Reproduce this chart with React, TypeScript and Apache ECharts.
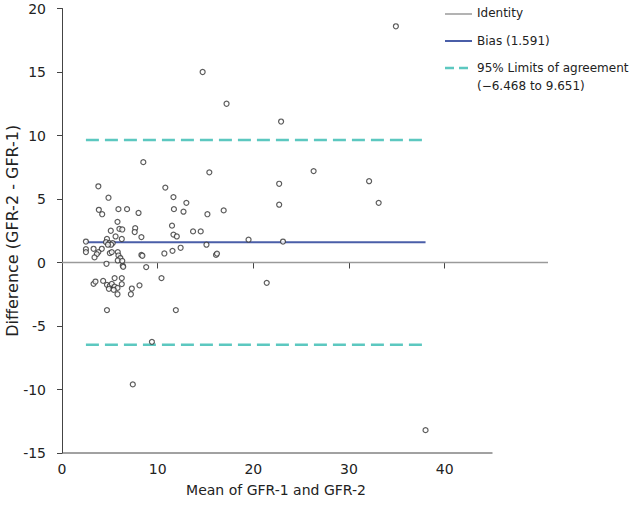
import React, { useEffect, useRef } from "react";
import * as echarts from "echarts";

// Bland-Altman points: [mean of GFR-1 and GFR-2, difference GFR-2 - GFR-1]
const points: [number, number][] = [
  [34.9, 18.6], [14.7, 15.0], [17.2, 12.5], [22.9, 11.1], [8.5, 7.9], [15.4, 7.1],
  [26.3, 7.2], [32.1, 6.4], [22.7, 6.2], [10.8, 5.9], [11.65, 5.15], [13.0, 4.7],
  [33.1, 4.7], [11.7, 4.2], [12.7, 4.0], [22.7, 4.55], [16.9, 4.1], [15.2, 3.8],
  [11.5, 2.9], [11.65, 2.2], [12.0, 2.05], [13.7, 2.45], [14.5, 2.45], [19.5, 1.8],
  [23.1, 1.65], [15.1, 1.4], [12.4, 1.16], [11.55, 0.92], [10.7, 0.71], [16.1, 0.6],
  [16.2, 0.7], [8.3, 2.0], [8.3, 0.6], [8.4, 0.53], [8.8, -0.36], [10.4, -1.23],
  [8.1, -1.8], [21.4, -1.6], [11.9, -3.75], [4.7, -3.75], [9.4, -6.25], [7.4, -9.6],
  [38.0, -13.2],
  [3.8, 6.0], [4.86, 5.1], [3.85, 4.15], [4.2, 3.8], [5.9, 4.2], [6.8, 4.2],
  [8.0, 3.9], [5.8, 3.2], [5.1, 2.5], [6.0, 2.65], [6.3, 2.6], [7.65, 2.7],
  [7.6, 2.4], [5.6, 2.05], [6.25, 1.85], [4.7, 1.85], [4.6, 1.6], [4.96, 1.53],
  [5.3, 1.53], [5.14, 1.4], [4.8, 1.4], [2.5, 1.65], [2.5, 1.05], [2.5, 0.82],
  [3.3, 1.08], [4.16, 1.08], [3.8, 0.82], [3.64, 0.66], [3.4, 0.4], [5.0, 0.74],
  [5.2, 0.82], [5.83, 0.82], [5.9, 0.55], [6.1, 0.35], [5.83, 0.16], [6.3, 0.13],
  [6.35, -0.26], [6.4, -0.34], [4.65, -0.1], [3.3, -1.68], [3.5, -1.5], [4.3, -1.45],
  [5.5, -1.23], [6.25, -1.23], [4.7, -1.76], [5.0, -1.84], [5.2, -1.68], [5.5, -1.9],
  [5.8, -2.0], [4.9, -2.07], [5.4, -2.15], [5.8, -2.5], [6.25, -1.7], [7.3, -2.05],
  [7.2, -2.5],
];

const biasValue = 1.591;
const loaLower = -6.468;
const loaUpper = 9.651;
const lineStart = 2.5;
const lineEnd = 38.0;

const xTicks = [0, 10, 20, 30, 40];
const xAxisEnd = 45;
const xMax = 50.8;
const yMin = -15;
const yMax = 20;

const FONT = "DejaVu Sans";
const IDENTITY_NAME = "Identity";
const BIAS_NAME = "Bias (1.591)";
const LOA_NAME = "95% Limits of agreement";
const LOA_RANGE = "(\u22126.468 to 9.651)";

const IDENTITY_COLOR = "#9a9a9a";
const BIAS_COLOR = "#4a5ea8";
const LOA_COLOR = "#5cc8c0";
const LOA_DASH = [13, 6];

export default function App() {
  const ref = useRef<HTMLDivElement>(null);
  useEffect(() => {
    const chart = echarts.init(ref.current!, null, { renderer: "svg" });
    const legendText = (text: string, top: number) => ({
      type: "text",
      left: 477,
      top,
      style: { text, fontSize: 12, fill: "#222", fontFamily: FONT },
    });
    chart.setOption({
      animation: false,
      backgroundColor: "#ffffff",
      textStyle: { fontFamily: FONT },
      grid: {
        left: 62,
        right: 92,
        top: 8.5,
        bottom: 57,
        containLabel: false,
        outerBoundsMode: "none",
      },
      graphic: [
        { type: "line", shape: { x1: 445, y1: 14, x2: 472, y2: 14 }, style: { stroke: IDENTITY_COLOR, lineWidth: 1.5 } },
        legendText(IDENTITY_NAME, 7),
        { type: "line", shape: { x1: 445, y1: 41, x2: 472, y2: 41 }, style: { stroke: BIAS_COLOR, lineWidth: 2 } },
        legendText(BIAS_NAME, 35),
        { type: "line", shape: { x1: 445, y1: 68, x2: 472, y2: 68 }, style: { stroke: LOA_COLOR, lineWidth: 2.5, lineDash: [9, 5] } },
        legendText(LOA_NAME, 62),
        legendText(LOA_RANGE, 80),
      ],
      xAxis: {
        type: "value",
        min: 0,
        max: xMax,
        interval: 10,
        axisLine: { show: false },
        axisTick: { show: true, customValues: xTicks, length: 6, lineStyle: { color: "#444" } },
        axisLabel: { customValues: xTicks, margin: 9, fontSize: 14, color: "#222", fontFamily: FONT },
        splitLine: { show: false },
        name: "Mean of GFR-1 and GFR-2",
        nameLocation: "middle",
        nameGap: 30,
        nameMoveOverlap: false,
        nameTextStyle: { fontSize: 14, color: "#222", padding: [0, 58, 0, 0], fontFamily: FONT },
      },
      yAxis: {
        type: "value",
        min: yMin,
        max: yMax,
        interval: 5,
        axisLine: { show: true, lineStyle: { color: "#444", width: 1 } },
        axisTick: { show: true, length: 5, lineStyle: { color: "#444" } },
        axisLabel: { margin: 16, fontSize: 14, color: "#222", fontFamily: FONT },
        splitLine: { show: false },
        name: "Difference (GFR-2 - GFR-1)",
        nameLocation: "middle",
        nameGap: 42,
        nameMoveOverlap: false,
        nameTextStyle: { fontSize: 16, color: "#222", fontFamily: FONT },
      },
      series: [
        {
          name: IDENTITY_NAME,
          type: "line",
          data: [[0, 0], [xMax, 0]],
          symbol: "none",
          lineStyle: { color: IDENTITY_COLOR, width: 1.5 },
          z: 2,
        },
        {
          name: BIAS_NAME,
          type: "line",
          data: [[lineStart, biasValue], [lineEnd, biasValue]],
          symbol: "none",
          lineStyle: { color: BIAS_COLOR, width: 2 },
          z: 3,
        },
        {
          name: LOA_NAME,
          type: "line",
          data: [[lineStart, loaUpper], [lineEnd, loaUpper]],
          symbol: "none",
          lineStyle: { color: LOA_COLOR, width: 2.5, type: LOA_DASH },
          z: 3,
        },
        {
          name: LOA_NAME,
          type: "line",
          data: [[lineStart, loaLower], [lineEnd, loaLower]],
          symbol: "none",
          lineStyle: { color: LOA_COLOR, width: 2.5, type: LOA_DASH },
          z: 3,
        },
        {
          name: "xAxisLine",
          type: "line",
          data: [[0, yMin], [xAxisEnd, yMin]],
          symbol: "none",
          clip: false,
          silent: true,
          lineStyle: { color: "#444", width: 1 },
          z: 4,
        },
        {
          name: "Data",
          type: "scatter",
          data: points,
          symbol: "circle",
          symbolSize: 5,
          itemStyle: { color: "#ffffff", borderColor: "#333", borderWidth: 1.2 },
          z: 5,
        },
      ],
    });
    return () => chart.dispose();
  }, []);
  return <div ref={ref} style={{ position: "fixed", left: 0, top: 0, width: 640, height: 510 }} />;
}
